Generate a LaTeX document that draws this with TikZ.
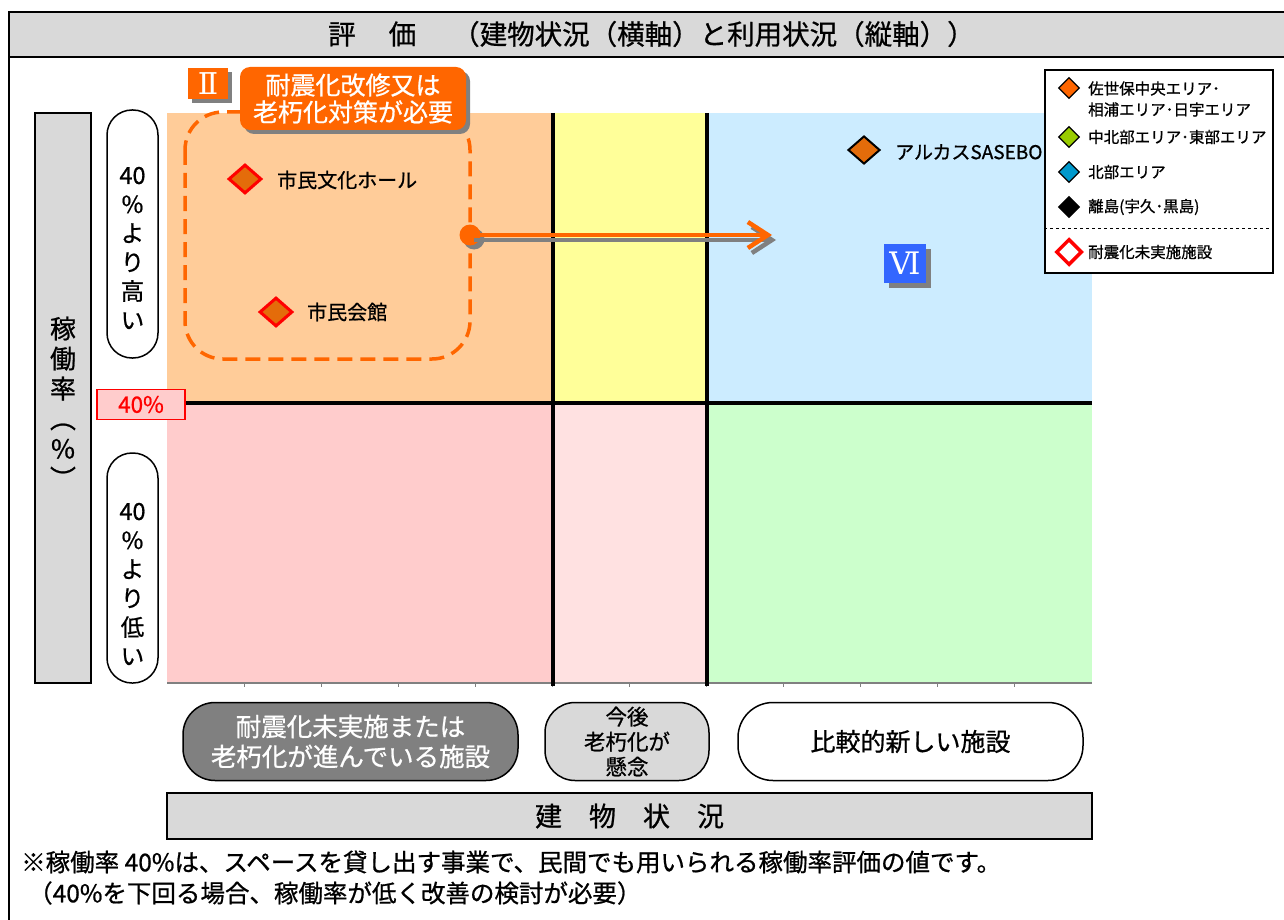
\documentclass[tikz,border=0pt]{standalone}
\usepackage{fontspec}
\setmainfont{Noto Sans CJK JP}[FakeBold=0.8]
\newfontfamily\romnum{DejaVu Serif}
\usetikzlibrary{arrows.meta,shapes.geometric,shadows}
\definecolor{peach}{HTML}{FFCC99}
\definecolor{lyellow}{HTML}{FFFF99}
\definecolor{lblue}{HTML}{CCECFF}
\definecolor{lpink}{HTML}{FFCCCC}
\definecolor{vlpink}{HTML}{FFE1E1}
\definecolor{lgreen}{HTML}{CCFFCC}
\definecolor{lgray}{HTML}{D9D9D9}
\definecolor{dgray}{HTML}{808080}
\definecolor{orng}{HTML}{FF6600}
\definecolor{dorng}{HTML}{E46C0A}
\definecolor{vblue}{HTML}{3366FF}
\definecolor{lgrn}{HTML}{99CC00}
\definecolor{lcyan}{HTML}{0099CC}
\newcommand\fsz[2]{\fontsize{#1}{#2}\selectfont}
\newcommand\vparen[1]{\rotatebox[origin=c]{-90}{#1}}
\tikzset{
  divider/.style={line width=3.5pt, black},
  labelbox/.style={draw=black, line width=1.5pt, fill=lgray, inner sep=0pt},
  pill/.style={draw=black, line width=1.5pt, inner sep=0pt},
  vtext/.style={align=center, inner sep=0pt},
  facility/.style={diamond, minimum width=33pt, minimum height=29pt, inner sep=0pt, fill=dorng, draw=red, line width=3pt},
  facname/.style={anchor=west, font=\fsz{20}{22}, inner sep=0pt},
  legdia/.style={diamond, minimum width=21pt, minimum height=21pt, inner sep=0pt, draw=black, line width=1.2pt},
  legtext/.style={anchor=west, font=\fsz{15.5}{21}, inner sep=0pt, align=left},
  gshadow/.style={drop shadow={shadow xshift=4pt, shadow yshift=-4pt, fill=dgray, opacity=1}},
}
\begin{document}
\begin{tikzpicture}[x=1pt,y=-1pt]
\useasboundingbox (0,0) rectangle (1284,920);
% frame and title bar
\fill[white] (0,0) rectangle (1284,920);
\fill[lgray] (9,12) rectangle (1300,57);
\draw[line width=2pt] (9,57) -- (1300,57);
\draw[line width=2pt] (9,940) -- (9,12) -- (1300,12);
\node[anchor=west, inner sep=0pt, font=\fsz{27.5}{32}] (title) at (328,34) {評\hspace{33pt}価\hspace{36pt}（建物状況（横軸）と利用状況（縦軸））};
% chart regions
\fill[peach] (167,113) rectangle (553,402);
\fill[lyellow] (553,113) rectangle (707,402);
\fill[lblue] (707,113) rectangle (1092,402);
\fill[lpink] (167,402) rectangle (553,683);
\fill[vlpink] (553,402) rectangle (707,683);
\fill[lgreen] (707,402) rectangle (1092,683);
\draw[dgray, line width=2pt] (167,683) -- (1092,683);
\foreach \k in {1,...,11} \draw[dgray, line width=1pt] ({167+77.08*\k},683) -- ++(0,4);
\draw[divider] (553,113) -- (553,686);
\draw[divider] (707,113) -- (707,686);
\draw[divider] (167,403) -- (1092,403);
% left axis
\node[labelbox, minimum width=56pt, minimum height=570pt] (yaxis) at (63,398) {};
\node[vtext, font=\fsz{26}{30}] (yaxistext) at (63,404) {稼\\働\\率\\\vparen{（}\\\%\\\vparen{）}};
\node[pill, rounded corners=25pt, fill=white, minimum width=51pt, minimum height=248pt] (high) at (132.5,234) {};
\node[vtext, font=\fsz{23.5}{29}] (hightext) at (132.5,248) {40\\\%\\よ\\り\\高\\い};
\node[pill, rounded corners=25pt, fill=white, minimum width=51pt, minimum height=230pt] (low) at (132.5,568) {};
\node[vtext, font=\fsz{23.5}{29}] (lowtext) at (132.5,584) {40\\\%\\よ\\り\\低\\い};
\node[draw=red, line width=1.2pt, fill=lpink, minimum width=88pt, minimum height=30pt, inner sep=0pt, text=red, font=\fsz{22.5}{24}] (forty) at (141,404.5) {40\%};
% group II
\draw[orng, line width=3.5pt, dash pattern=on 15pt off 8pt, rounded corners=38pt] (185,112) rectangle (470,359);
\node[facility] (hall) at (245,179) {};
\node[facname] (hallname) at (277,180) {市民文化ホール};
\node[facility] (kaikan) at (276,312) {};
\node[facname] (kaikanname) at (307,312) {市民会館};
\node[gshadow, fill=orng, minimum width=40pt, minimum height=31pt, inner sep=0pt, text=white, font=\romnum\fsz{30}{30}] (two) at (208,83.5) {Ⅱ};
\node[gshadow, fill=orng, rounded corners=10pt, minimum width=226pt, minimum height=63pt, inner sep=0pt, align=center, text=white, font=\fsz{25}{27}] (need) at (353,98.5) {耐震化改修又は\\老朽化対策が必要};
% arrow
\node[circle, fill=orng, minimum size=21pt, inner sep=0pt, gshadow] (dot) at (470,235) {};
\coordinate (tip) at (772,235);
\draw[dgray, line width=4.5pt, -{Straight Barb[length=20pt,width=26pt]}, transform canvas={shift={(4pt,-5pt)}}] (dot.center) -- (tip);
\draw[orng, line width=4.5pt, -{Straight Barb[length=20pt,width=26pt]}] (dot.center) -- (tip);
% group VI
\node[diamond, minimum width=32pt, minimum height=28pt, inner sep=0pt, fill=dorng, draw=black, line width=2pt] (arkas) at (864,150) {};
\node[facname, font=\fsz{19}{22}] (arkasname) at (895,152) {アルカスSASEBO};
\node[drop shadow={shadow xshift=5pt, shadow yshift=-5pt, fill=dgray, opacity=1}, fill=vblue, minimum width=42pt, minimum height=39pt, inner sep=0pt, text=white, font=\romnum\fsz{31}{32}] (six) at (905,263.5) {Ⅵ};
% legend
\node[draw=black, line width=1.5pt, fill=white, minimum width=228pt, minimum height=203pt, inner sep=0pt] (legend) at (1159,171.5) {};
\node[legdia, fill=orng] (l1) at (1069,88) {};
\node[legtext] (l1t) at (1088,99) {佐世保中央エリア･\\相浦エリア･日宇エリア};
\node[legdia, fill=lgrn] (l2) at (1069,137) {};
\node[legtext] (l2t) at (1088,137) {中北部エリア･東部エリア};
\node[legdia, fill=lcyan] (l3) at (1069,172) {};
\node[legtext] (l3t) at (1088,172) {北部エリア};
\node[legdia, fill=black] (l4) at (1069,207) {};
\node[legtext] (l4t) at (1088,207) {離島(宇久･黒島)};
\draw[dashed, line width=1pt] (legend.west |- 0,228) -- (legend.east |- 0,228);
\node[diamond, minimum width=26pt, minimum height=26pt, inner sep=0pt, fill=white, draw=red, line width=3.5pt] (l5) at (1069,252) {};
\node[legtext] (l5t) at (1088,252) {耐震化未実施施設};
% bottom labels
\node[pill, rounded corners=32pt, fill=dgray, minimum width=335pt, minimum height=78pt, align=center, text=white, font=\fsz{25.5}{30}] (old) at (350.5,741.5) {耐震化未実施または\\老朽化が進んでいる施設};
\node[pill, rounded corners=30pt, fill=lgray, minimum width=164pt, minimum height=78pt, align=center, font=\fsz{21.5}{25}] (future) at (627,741.5) {今後\\老朽化が\\懸念};
\node[pill, rounded corners=35pt, fill=white, minimum width=345pt, minimum height=78pt, font=\fsz{25}{28}] (new) at (910.5,741.5) {比較的新しい施設};
\node[labelbox, minimum width=925pt, minimum height=46pt, font=\fsz{27}{30}] (xaxis) at (629.5,816) {建　物　状　況};
% notes
\node[anchor=west, inner sep=0pt, font=\fsz{24.5}{28}] (note1) at (21,862) {※稼働率 40\%は、スペースを貸し出す事業で、民間でも用いられる稼働率評価の値です。};
\node[anchor=west, inner sep=0pt, font=\fsz{24.5}{28}] (note2) at (28,893) {（40\%を下回る場合、稼働率が低く改善の検討が必要）};
\end{tikzpicture}
\end{document}
